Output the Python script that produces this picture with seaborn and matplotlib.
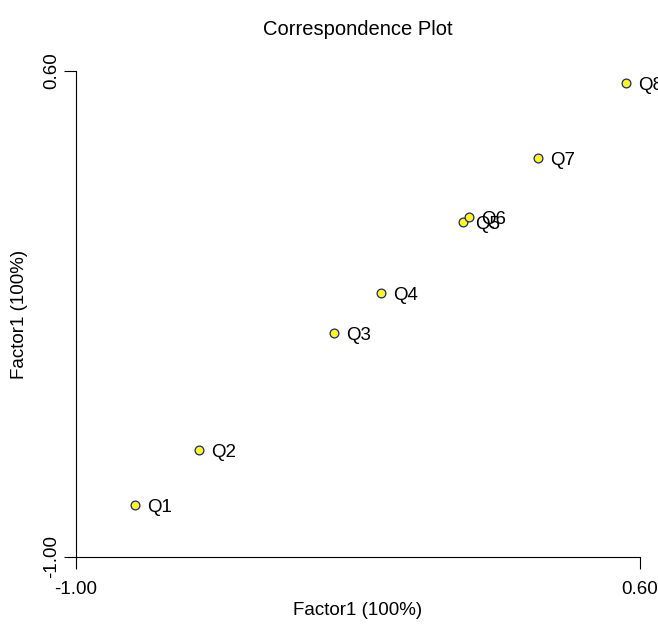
import pandas as pd
import matplotlib
matplotlib.use("Agg")
import matplotlib.pyplot as plt
import seaborn as sns

labels = ["Q1", "Q2", "Q3", "Q4", "Q5", "Q6", "Q7", "Q8"]
factor_x = [-0.833, -0.651, -0.268, -0.135, 0.098, 0.115, 0.311, 0.560]
factor_y = [-0.829, -0.648, -0.263, -0.131, 0.103, 0.119, 0.314, 0.561]

df = pd.DataFrame({"label": labels, "x": factor_x, "y": factor_y})

sns.set_style("ticks")
plt.rcParams["font.family"] = ["Liberation Sans", "DejaVu Sans"]
plt.rcParams["text.color"] = "black"
plt.rcParams["axes.labelcolor"] = "black"

fig = plt.figure(figsize=(6.58, 6.24), dpi=100)
ax = fig.add_axes([0.1155, 0.1074, 0.8571, 0.7788])

sns.scatterplot(data=df, x="x", y="y", ax=ax, s=40, color="#ffff00",
                edgecolor="#1f1f99", linewidth=0.9, zorder=3, clip_on=False)

# point labels to the right of each marker
for _, row in df.iterrows():
    ax.annotate(row["label"], (row["x"], row["y"]), xytext=(8.5, -1.8),
                textcoords="offset points", ha="left", va="center",
                fontsize=13.5, color="black", annotation_clip=False)

ax.set_xlim(-1.0, 0.6)
ax.set_ylim(-1.0, 0.6)
ax.set_xticks([-1.0, 0.6])
ax.set_yticks([-1.0, 0.6])
ax.set_xticklabels(["-1.00", "0.60"])
ax.set_yticklabels(["-1.00", "0.60"], rotation=90, va="center")
ax.tick_params(axis="both", length=8.6, width=0.8, color="black",
               labelsize=13.5, labelcolor="black")
ax.tick_params(axis="x", pad=9)
ax.tick_params(axis="y", pad=3)

sns.despine(ax=ax)
for side in ["left", "bottom"]:
    ax.spines[side].set_color("black")
    ax.spines[side].set_linewidth(0.8)

ax.set_xlabel("Factor1 (100%)", fontsize=13.5, color="black")
ax.set_ylabel("Factor1 (100%)", fontsize=13.5, color="black")
ax.xaxis.set_label_coords(0.5, -0.092)
ax.yaxis.set_label_coords(-0.085, 0.5)
ax.set_title("Correspondence Plot", fontsize=14.5, pad=26, color="black")

fig.savefig("out.png", dpi=100)
